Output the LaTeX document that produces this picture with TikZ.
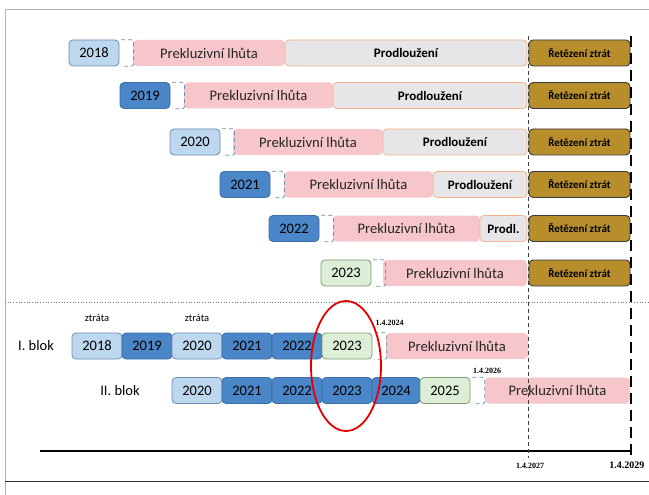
\documentclass[tikz,border=0pt]{standalone}
\usepackage{fontspec}
\setmainfont{Carlito}
\newfontfamily\datefont{Liberation Serif}
\begin{document}
\begin{tikzpicture}[x=1pt,y=-1pt]
\definecolor{yrlightfill}{HTML}{BDD7EE}
\definecolor{yrlightline}{HTML}{6F8DB3}
\definecolor{yrmidfill}{HTML}{4A86C8}
\definecolor{yrmidline}{HTML}{3B6DA6}
\definecolor{yrgreenfill}{HTML}{DDEED6}
\definecolor{yrgreenline}{HTML}{7E9A72}
\definecolor{pinkfill}{HTML}{F6C6CB}
\definecolor{prodlfill}{HTML}{E6E6E8}
\definecolor{prodlline}{HTML}{F2B48A}
\definecolor{retezfill}{HTML}{B88E2C}
\definecolor{retezline}{HTML}{3A3A3A}
\definecolor{gapline}{HTML}{6F8FB0}
\definecolor{framegray}{HTML}{B4B4B4}
\tikzset{
  box/.style={inner sep=0pt, minimum height=26pt, rounded corners=4pt, font=\fontsize{14.5}{14.5}\selectfont},
  yrlight/.style={box, fill=yrlightfill, draw=yrlightline, line width=0.8pt, minimum width=50pt},
  yrmid/.style={box, fill=yrmidfill, draw=yrmidline, line width=0.8pt, minimum width=50pt},
  yrgreen/.style={box, fill=yrgreenfill, draw=yrgreenline, line width=0.8pt, minimum width=50pt},
  pinkbox/.style={box, fill=pinkfill, text=black!85, font=\fontsize{14.6}{14.6}\selectfont},
  prodlbox/.style={box, fill=prodlfill, draw=prodlline, line width=0.8pt, font=\fontsize{13}{13}\selectfont\bfseries},
  retezbox/.style={box, fill=retezfill, draw=retezline, line width=0.9pt, minimum width=101pt, font=\fontsize{11}{11}\selectfont\bfseries},
  gapbox/.style={inner sep=0pt, minimum height=26pt, minimum width=12pt},
  gapbr/.style={draw=gapline, dashed, dash pattern=on 4pt off 3pt, line width=0.8pt, rounded corners=2pt},
  datelbl/.style={font=\datefont\bfseries\fontsize{8}{8}\selectfont},
  smalllbl/.style={font=\fontsize{10.5}{10.5}\selectfont},
  bloklbl/.style={font=\fontsize{14.5}{14.5}\selectfont},
}
\useasboundingbox (0,0) rectangle (649,495);
\fill[white] (0,0) rectangle (649,495);

% frame
\draw[framegray, line width=1pt] (5.5,495) -- (5.5,10) -- (649,10);
\draw[black!80, line width=1pt] (5,481) -- (649,481);
\draw[black!55, line width=0.7pt, dotted] (5,302) -- (649,302);

% ---- upper part: one row per year ----
% row 2018
\node[yrlight] (y18) at (94,53) {2018};
\node[gapbox, anchor=west] (g18) at (121,53) {};
\node[pinkbox, minimum width=152pt] (p18) at (209,53) {Prekluzivní lhůta};
\node[prodlbox, minimum width=242pt] (d18) at (406,53) {Prodloužení};
\node[retezbox] (r18) at (579.5,53) {Řetězení ztrát};
% row 2019
\node[yrmid] (y19) at (145,95.5) {2019};
\node[gapbox, anchor=west] (g19) at (172,95.5) {};
\node[pinkbox, minimum width=149pt] (p19) at (258.5,95.5) {Prekluzivní lhůta};
\node[prodlbox, minimum width=194pt] (d19) at (430,95.5) {Prodloužení};
\node[retezbox] (r19) at (579.5,95.5) {Řetězení ztrát};
% row 2020
\node[yrlight] (y20) at (195,142) {2020};
\node[gapbox, anchor=west] (g20) at (222,142) {};
\node[pinkbox, minimum width=150pt] (p20) at (308,142) {Prekluzivní lhůta};
\node[prodlbox, minimum width=144pt] (d20) at (455,142) {Prodloužení};
\node[retezbox] (r20) at (579.5,142) {Řetězení ztrát};
% row 2021
\node[yrmid] (y21) at (245,184.5) {2021};
\node[gapbox, anchor=west] (g21) at (272,184.5) {};
\node[pinkbox, minimum width=149pt] (p21) at (358.5,184.5) {Prekluzivní lhůta};
\node[prodlbox, minimum width=94pt] (d21) at (480,184.5) {Prodloužení};
\node[retezbox] (r21) at (579.5,184.5) {Řetězení ztrát};
% row 2022
\node[yrmid] (y22) at (294,228.5) {2022};
\node[gapbox, anchor=west] (g22) at (321,228.5) {};
\node[pinkbox, minimum width=147pt] (p22) at (406.5,228.5) {Prekluzivní lhůta};
\node[prodlbox, minimum width=47pt] (d22) at (503.5,228.5) {Prodl.};
\node[retezbox] (r22) at (579.5,228.5) {Řetězení ztrát};
% row 2023
\node[yrgreen] (y23) at (346,273) {2023};
\node[gapbox, anchor=west] (g23) at (373,273) {};
\node[pinkbox, minimum width=144pt] (p23) at (455,273) {Prekluzivní lhůta};
\node[retezbox] (r23) at (579.5,273) {Řetězení ztrát};

% ---- lower part: blocks ----
\node[bloklbl] (b1) at (36,346) {I. blok};
\node[yrlight] (a18) at (97,346) {2018};
\node[yrmid, anchor=west] (a19) at ([xshift=-0.8pt]a18.east) {2019};
\node[yrlight, anchor=west] (a20) at ([xshift=-0.8pt]a19.east) {2020};
\node[yrmid, anchor=west] (a21) at ([xshift=-0.8pt]a20.east) {2021};
\node[yrmid, anchor=west] (a22) at ([xshift=-0.8pt]a21.east) {2022};
\node[yrgreen, anchor=west] (a23) at ([xshift=-0.8pt]a22.east) {2023};
\node[gapbox, anchor=west] (ga) at ([xshift=2pt]a23.east) {};
\node[pinkbox, minimum width=142pt] (pa) at (457,346) {Prekluzivní lhůta};
\node[smalllbl] (z18) at (a18.north |- 0,318) {ztráta};
\node[smalllbl] (z20) at (a20.north |- 0,318) {ztráta};
\node[datelbl] (d24) at (389.5,323) {1.4.2024};

\node[bloklbl] (b2) at (120,390.5) {II. blok};
\node[yrlight] (c20) at (197,390.5) {2020};
\node[yrmid, anchor=west] (c21) at ([xshift=-0.8pt]c20.east) {2021};
\node[yrmid, anchor=west] (c22) at ([xshift=-0.8pt]c21.east) {2022};
\node[yrmid, anchor=west] (c23) at ([xshift=-0.8pt]c22.east) {2023};
\node[yrmid, anchor=west, minimum width=48pt] (c24) at ([xshift=-0.8pt]c23.east) {2024};
\node[yrgreen, anchor=west] (c25) at ([xshift=-0.8pt]c24.east) {2025};
\node[gapbox, anchor=west] (gc) at ([xshift=2pt]c25.east) {};
\node[pinkbox, minimum width=145pt] (pc) at (557.5,390.5) {Prekluzivní lhůta};
\node[datelbl] (d26) at (487,371) {1.4.2026};

% dashed brackets before each limitation period
\foreach \g in {g18,g19,g20,g21,g22,g23,ga,gc}
  \draw[gapbr] (\g.north west) -- (\g.north east) -- (\g.south east) -- (\g.south west);

% highlighted year 2023
\draw[red!90!black, line width=1.8pt] (346,366) ellipse [x radius=35pt, y radius=65pt];

% time axis and deadlines
\coordinate (ax0) at (40,451);
\coordinate (ax1) at (631,451);
\coordinate (t27top) at (528,36);
\coordinate (t27bot) at (528,458);
\coordinate (t29top) at (631,36);
\coordinate (t29bot) at (631,456);
\draw[line width=1.6pt] (ax0) -- (ax1);
\draw[black!75, line width=0.5pt, dash pattern=on 4pt off 3pt] (t27top) -- (t27bot);
\draw[black, line width=1.7pt, dash pattern=on 11pt off 6pt] (t29top) -- (t29bot);
\node[datelbl] (l27) at (530,466) {1.4.2027};
\node[datelbl, font=\datefont\bfseries\fontsize{10}{10}\selectfont, anchor=east] (l29) at (648,465) {1.4.2029};
\end{tikzpicture}
\end{document}
